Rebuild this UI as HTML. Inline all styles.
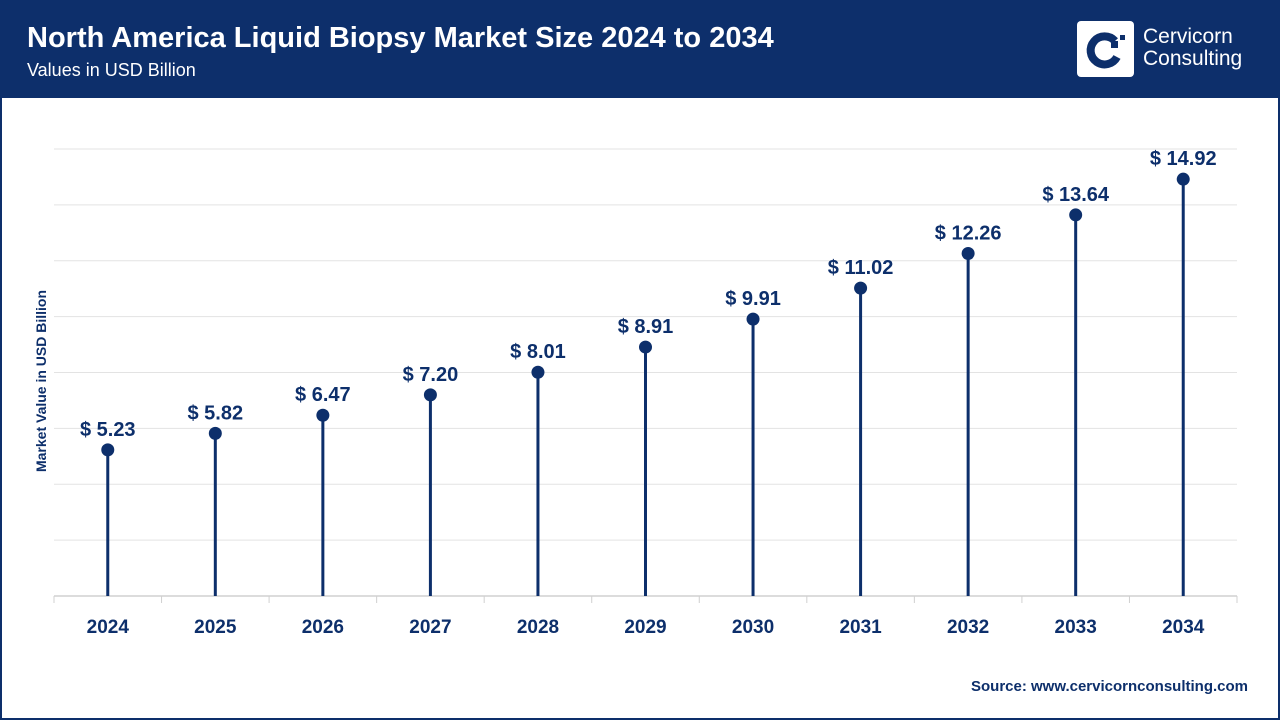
<!DOCTYPE html>
<html><head><meta charset="utf-8"><style>
body{margin:0;width:1280px;height:720px;overflow:hidden;background:#fff;font-family:"Liberation Sans",sans-serif}
#frame{position:absolute;left:0;top:0;width:1276px;height:716px;border:2px solid #0d2f6b}
#hdr{position:absolute;left:0;top:0;width:1280px;height:98px;background:#0d2f6b}
</style></head><body>
<div id="frame"></div>
<div id="hdr">
<div style="position:absolute;left:27px;top:22px;color:#fff;font-weight:bold;font-size:29px">North America Liquid Biopsy Market Size 2024 to 2034</div>
<div style="position:absolute;left:27px;top:60px;color:#fff;font-size:18px">Values in USD Billion</div>
<div style="position:absolute;left:1077px;top:21px;width:57px;height:56px;background:#fff;border-radius:4px">
<svg width="57" height="56" viewBox="0 0 57 56"><path d="M38 20 A14 14 0 1 0 40 36" fill="none" stroke="#0d2f6b" stroke-width="8"/><rect x="34" y="20" width="7" height="7" fill="#0d2f6b"/><rect x="43" y="14" width="5" height="5" fill="#0d2f6b"/></svg></div>
<div style="position:absolute;left:1143px;top:26px;color:#fff;font-size:21px;line-height:22px">Cervicorn<br>Consulting</div>
</div>
<svg id="chart" width="1280" height="720" style="position:absolute;left:0;top:0"></svg>
<div style="position:absolute;right:32px;top:678px;color:#0d2f6b;font-weight:bold;font-size:15px">Source: www.cervicornconsulting.com</div>
<script>
const categories=["2024","2025","2026","2027","2028","2029","2030","2031","2032","2033","2034"];
const values=[5.23,5.82,6.47,7.20,8.01,8.91,9.91,11.02,12.26,13.64,14.92];
const yTicks=[0,2,4,6,8,10,12,14,16];
const svg=document.getElementById('chart');const NS="http://www.w3.org/2000/svg";
const L=54,R=1237,B=596,T=149,yMax=16;
const step=(R-L)/categories.length;
const x=i=>L+step*(i+0.5);const y=v=>B-(v/yMax)*(B-T);
function mk(t,a){const e=document.createElementNS(NS,t);for(const k in a)e.setAttribute(k,a[k]);svg.appendChild(e);return e;}
yTicks.forEach(v=>{if(v===0)return;const g=mk('line',{x1:L,x2:R,y1:y(v),y2:y(v),stroke:'#e3e3e3','stroke-width':1});

});
const ax=mk('line',{x1:L,x2:R,y1:B,y2:B,stroke:'#d0d0d0','stroke-width':1.5});


for(let i=0;i<=categories.length;i++){const t=mk('line',{x1:L+step*i,x2:L+step*i,y1:B,y2:B+7,stroke:'#d0d0d0'});

}
categories.forEach((c,i)=>{
const st=mk('line',{x1:x(i),x2:x(i),y1:B,y2:y(values[i]),stroke:'#0d2f6b','stroke-width':3});


const d=mk('circle',{cx:x(i),cy:y(values[i]),r:6.5,fill:'#0d2f6b'});


const lb=mk('text',{x:x(i),y:y(values[i])-14,'text-anchor':'middle',fill:'#0d2f6b','font-size':20,'font-weight':'bold','font-family':'Liberation Sans, sans-serif'});
lb.textContent='$ '+values[i].toFixed(2);


const xl=mk('text',{x:x(i),y:633,'text-anchor':'middle',fill:'#0d2f6b','font-size':19,'font-weight':'bold','font-family':'Liberation Sans, sans-serif'});
xl.textContent=c;


});
const yt=mk('text',{x:0,y:0,transform:'translate(46,381) rotate(-90)','text-anchor':'middle',fill:'#0d2f6b','font-size':14,'font-weight':'bold','font-family':'Liberation Sans, sans-serif'});
yt.textContent='Market Value in USD Billion';


</script>
</body></html>
